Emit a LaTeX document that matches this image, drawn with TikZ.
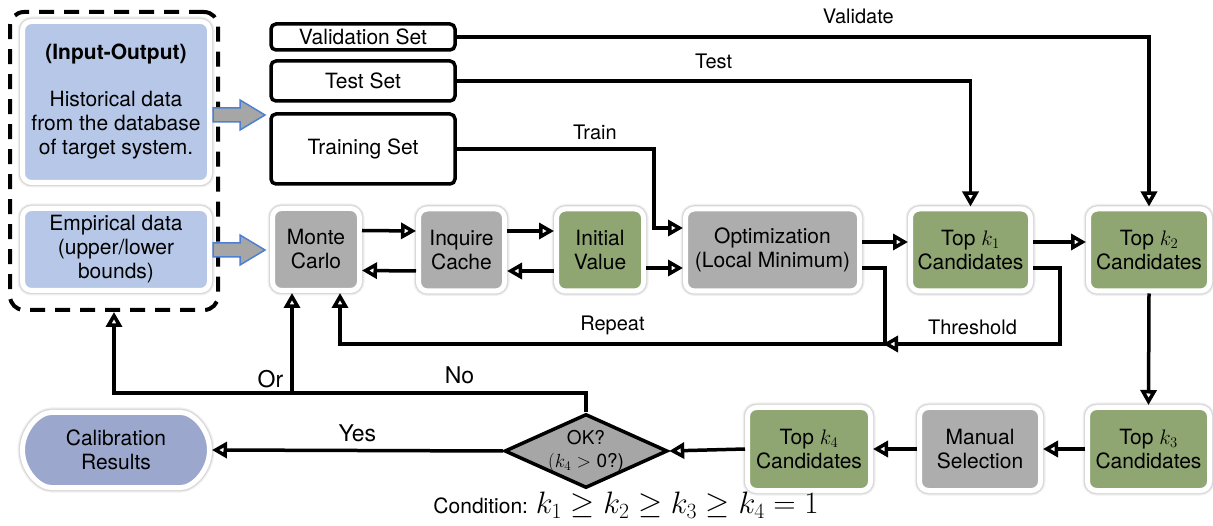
\RequirePackage{fix-cm}
\documentclass[tikz,border=0pt]{standalone}
\usepackage[no-math]{fontspec}
\setmainfont{TeX Gyre Heros}
\usetikzlibrary{positioning,arrows.meta,shapes.geometric,shapes.misc}

\definecolor{databg}{HTML}{B6C7E7}
\definecolor{resultbg}{HTML}{9BA7CD}
\definecolor{procbg}{HTML}{ADADAD}
\definecolor{candbg}{HTML}{8FA572}
\definecolor{decbg}{HTML}{A6A6A6}
\definecolor{fatblue}{HTML}{4F7FD0}

\begin{document}
\begin{tikzpicture}[
x=1pt,y=-1pt,
font=\fontsize{21}{24}\selectfont,
card/.style={
  rectangle,
  rounded corners=9pt,
  draw=white,
  line width=5pt,
  align=center,
  inner sep=0pt,
  preaction={draw=black,opacity=.06,line width=10pt},
  preaction={draw=black,opacity=.1,line width=7.5pt}
},
databox/.style={card,fill=databg,minimum width=187pt},
procbox/.style={card,fill=procbg,minimum height=82pt},
candbox/.style={card,fill=candbg,minimum height=82pt},
endbox/.style={
  card,
  rounded rectangle,
  fill=resultbg
},
setbox/.style={
  draw,
  fill=white,
  line width=3.5pt,
  rounded corners=5pt,
  inner sep=0pt,
  minimum width=184pt
},
groupbox/.style={
  draw,
  line width=4pt,
  rounded corners=14pt,
  dash pattern=on 15pt off 10pt
},
decision/.style={
  diamond,
  draw,
  fill=decbg,
  line width=3.5pt,
  inner sep=-15pt,
  minimum width=163pt,
  minimum height=74pt,
  align=center,
  font=\fontsize{19}{23}\selectfont
},
arr/.style={
  line width=3.5pt,
  -{Triangle[open,length=15pt,width=16pt]}
},
lbl/.style={
  font=\fontsize{20}{22}\selectfont,
  inner sep=2pt,
  above=5pt
},
bigarrow/.style={
  fill=decbg,
  draw=fatblue,
  line width=1.5pt
}
]
\useasboundingbox (0,0) rectangle (1213,526);

% inputs
\node[groupbox,minimum width=208pt,minimum height=298pt] (inputs) at (114,161) {};
\node[databox,minimum height=161pt] (hist) at (116,102)
  {\textbf{(Input-Output)}\\[23pt]Historical data\\from the database\\of target system.};
\node[databox,minimum height=82pt] (emp) at (116,249.5)
  {Empirical data\\(upper/lower\\bounds)};

\foreach \yy in {115,250}
  \draw[bigarrow] (213,\yy-7) -- (240,\yy-7) -- (240,\yy-15) -- (265,\yy)
    -- (240,\yy+15) -- (240,\yy+7) -- (213,\yy+7) -- cycle;

% data sets
\node[setbox,minimum height=26pt] (val) at (363,37) {Validation Set};
\node[setbox,minimum height=40pt] (test) at (363,81) {Test Set};
\node[setbox,minimum height=70pt] (train) at (363,149) {Training Set};

% top row
\node[procbox,minimum width=87pt] (mc) at (316,249.5) {Monte\\Carlo};
\node[procbox,minimum width=86pt] (iq) at (461.5,250) {Inquire\\Cache};
\node[candbox,minimum width=87pt] (init) at (600,250) {Initial\\Value};
\node[procbox,minimum width=174pt] (opt) at (772.5,250) {Optimization\\(Local Minimum)};
\node[candbox,minimum width=120pt] (k1) at (970.5,250) {Top $k_1$\\Candidates};
\node[candbox,minimum width=121pt] (k2) at (1149,250) {Top $k_2$\\Candidates};

% bottom row
\node[candbox,minimum width=122pt,minimum height=83pt] (k3) at (1148.5,449) {Top $k_3$\\Candidates};
\node[procbox,minimum width=121pt,minimum height=83pt] (man) at (980,449) {Manual\\Selection};
\node[candbox,minimum width=123pt,minimum height=83pt] (k4) at (809,449) {Top $k_4$\\Candidates};
\node[decision] (ok) at (586,451) {OK?\\$(k_4>$ 0?)};
\node[endbox,minimum width=187pt,minimum height=75pt] (cal) at (116,450) {Calibration\\Results};

\node (cond) at (626,505) {\fontsize{21}{24}\selectfont Condition: {\fontsize{31}{34}\selectfont$k_1\geq k_2\geq k_3\geq k_4=1$}};

\coordinate (rep) at (885,344);
\coordinate (thr) at (1060,344);
\coordinate (orjoin) at (292,393);

% connectors
\draw[arr] (val.east) -| node[lbl,pos=.29,above=9pt]{Validate} (k2.north);
\draw[arr] (test.east) -| node[lbl,pos=.25,above=8pt]{Test} (k1.north);
\draw[arr] (train.east) -| node[lbl,pos=.35]{Train} ([xshift=-29pt,yshift=22pt]opt.west) -- ([yshift=22pt]opt.west);

\draw[arr] ([yshift=19pt]mc.east) -- ([yshift=19pt]iq.west);
\draw[arr] ([yshift=-21pt]iq.west) -- ([yshift=-21pt]mc.east);
\draw[arr] ([yshift=19pt]iq.east) -- ([yshift=19pt]init.west);
\draw[arr] ([yshift=-21pt]init.west) -- ([yshift=-21pt]iq.east);
\draw[arr] ([yshift=-18pt]init.east) -- ([yshift=-18pt]opt.west);
\draw[arr] ([yshift=8pt]opt.east) -- ([yshift=8pt]k1.west);
\draw[arr] ([yshift=8pt]k1.east) -- ([yshift=8pt]k2.west);

\draw[arr] ([yshift=-18pt]opt.east) -| (rep) -| node[lbl,pos=.25]{Repeat} ([xshift=24pt]mc.south);
\draw[arr,shorten >=-2pt] ([yshift=-18pt]k1.east) -| (thr) -- node[lbl]{Threshold} (rep);

\draw[arr] (k2.south) -- (k3.north);
\draw[arr] (k3.west) -- (man.east);
\draw[arr] (man.west) -- (k4.east);
\draw[arr] (k4.west) -- (ok.east);
\draw[arr] (ok.west) -- node[lbl,font=\fontsize{23}{24}\selectfont]{Yes} (cal.east);

\draw[arr] (ok.north) |- node[lbl,pos=.715,font=\fontsize{23}{24}\selectfont]{No} (orjoin)
  -- node[pos=0,above left=3pt and 7pt,inner sep=0pt,font=\fontsize{23}{24}\selectfont]{Or} ([xshift=-24pt]mc.south);
\draw[arr] (orjoin) -| (inputs.south);
\end{tikzpicture}
\end{document}
